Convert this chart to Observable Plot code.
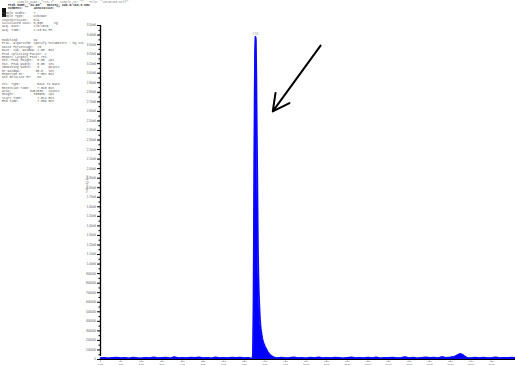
<!DOCTYPE html>
<html>
<head>
<meta charset="utf-8">
<script src="https://cdn.jsdelivr.net/npm/d3@7"></script>
<script src="https://cdn.jsdelivr.net/npm/@observablehq/plot@0.6"></script>
<style>
  html, body { margin: 0; padding: 0; background: #fff; }
  #wrap { position: relative; width: 515px; height: 365px; overflow: hidden; }
  #report { position: absolute; left: 2px; top: 0.5px; font-family: "Liberation Mono", "DejaVu Sans Mono", monospace; font-size: 3.1px; line-height: 3.4px; color: #555; white-space: pre; }
  #report .hdr { font-weight: bold; color: #333; padding-left: 6px; }
  #bar { position: absolute; left: 2px; top: 8px; width: 4px; height: 9px; background: #111; }
</style>
</head>
<body>
<div id="wrap">
  <div id="bar"></div>
  <div id="report"></div>
</div>
<script>
// ---- data ----
const scans = [1,10,20,30,40,50,60,70,80,90,100,110,120,130,140,150,160,170,180,190,200,210,220,230,240,250,260,270,280,290,300,310,320,330,340,350,360,365,368,369,370,371,372,373,374,375,376,377,378,379,380,381,382,383,384,385,386,387,388,389,390,391,392,394,396,398,400,403,406,410,415,420,425,430,440,450,460,470,480,490,500,510,520,530,540,550,560,570,580,590,600,610,620,630,640,650,660,670,680,690,700,710,720,730,740,750,760,770,780,790,800,810,820,830,840,850,860,865,870,875,880,885,890,900,910,920,930,940,950,960,970,980,990,1000,1008];
const intensity = [14000,18000,12000,16000,20000,13000,17000,11000,19000,15000,12000,18000,14000,21000,13000,16000,19000,12000,24000,15000,17000,13000,20000,16000,22000,14000,18000,12000,21000,15000,17000,13000,19000,16000,20000,14000,18000,12000,10000,12000,18000,60000,400000,1100000,1900000,2700000,3200000,3380000,3350000,3000000,2500000,2100000,1600000,1150000,900000,720000,600000,500000,420000,360000,320000,290000,260000,210000,180000,155000,135000,110000,85000,60000,38000,26000,18000,15000,20000,13000,17000,22000,14000,18000,12000,19000,15000,21000,13000,17000,14000,20000,16000,12000,18000,22000,14000,17000,13000,19000,15000,21000,12000,18000,16000,20000,13000,17000,24000,15000,19000,12000,18000,22000,16000,20000,14000,25000,18000,22000,28000,38000,52000,58000,48000,30000,18000,13000,19000,15000,20000,14000,17000,21000,13000,18000,16000,19000,15000];

const xDomain = [1, 1008];
const yDomain = [0, 3500000];
const yTicks = [0,100000,200000,300000,400000,500000,600000,700000,800000,900000,1000000,1100000,1200000,1300000,1400000,1500000,1600000,1700000,1800000,1900000,2000000,2100000,2200000,2300000,2400000,2500000,2600000,2700000,2800000,2900000,3000000,3100000,3200000,3300000,3400000,3500000];
const xTicks = [1,50,100,150,200,250,300,350,400,450,500,550,600,650,700,750,800,850,900,950];
const xTimeLabels = ["0.02","1.00","2.00","3.00","4.00","5.00","6.00","7.00","8.00","9.00","10.00","11.00","12.00","13.00","14.00","15.00","16.00","17.00","18.00","19.00"];
const peakLabel = ["7.55"];
const peakScan = [377];
const peakHeight = [3380000];
const arrowFromScan = [535], arrowFromY = [3290000];
const arrowToScan = [419], arrowToY = [2600000];
const yTitle = "Intensity, cps";

const reportHeader = [
  'Sample Name: "STD-7"   Sample ID: ""   File: "20160205.wiff"',
  'Peak Name: "3C-BZ"   Masses: 346.0/169.0 amu',
  'Comment: ""   Annotation: ""'
];
const reportLines = [
  "Sample Index:    7",
  "Sample Type:     Unknown",
  "Concentration:   N/A",
  "Calculated Conc: 0.000      ng",
  "Acq. Date:       2/5/2016",
  "Acq. Time:       1:43:04 PM",
  "",
  "",
  "Modified:        No",
  "Proc. Algorithm: Specify Parameters - MQ III",
  "Noise Percentage:  75",
  "Base. Sub. Window: 2.00  min",
  "Peak Splitting Factor: 2",
  "Report Largest Peak: Yes",
  "Min. Peak Height:  0.00  cps",
  "Min. Peak Width:   0.00  sec",
  "Smoothing Width:   3     points",
  "RT Window:        30.0   sec",
  "Expected RT:       7.557 min",
  "Use Relative RT:   No",
  "",
  "Int. Type:         Base To Base",
  "Retention Time:    7.545 min",
  "Area:          3482036.  counts",
  "Height:          3385e6. cps",
  "Start Time:        7.514 min",
  "End Time:          7.889 min"
];

// ---- report text ----
const rep = document.getElementById("report");
reportHeader.forEach((t, i) => {
  const d = document.createElement("div");
  d.textContent = t;
  if (i === 0) { d.style.paddingLeft = "15px"; d.style.color = "#888"; }
  else d.className = "hdr";
  rep.appendChild(d);
});
const sp = document.createElement("div"); sp.style.height = "1px"; rep.appendChild(sp);
reportLines.forEach(t => { const d = document.createElement("div"); d.textContent = t || " "; rep.appendChild(d); });

// ---- chart ----
const data = scans.map((s, i) => ({scan: s, v: intensity[i]}));
const minorTicks = yTicks.slice(0, -1).map(v => v + 50000);
const fmtY = v => v === 0 ? "0" : v >= 1000000 ? (v / 1e6).toFixed(2) + "e6" : String(v);

const chart = Plot.plot({
  width: 515,
  height: 365,
  marginLeft: 100,
  marginRight: 0,
  marginTop: 25,
  marginBottom: 6,
  style: {fontFamily: "Liberation Sans, Arial, sans-serif", background: "transparent", overflow: "visible"},
  x: {domain: xDomain},
  y: {domain: yDomain},
  marks: [
    Plot.areaY(data, {x: "scan", y: "v", fill: "#0000ff"}),
    Plot.lineY(data, {x: "scan", y: "v", stroke: "#0a0aff", strokeWidth: 1.8}),
    Plot.axisY({ticks: yTicks, tickSize: 3, tickPadding: 1.5, fontSize: 3, tickFormat: fmtY, label: null, stroke: "#000", fill: "#555"}),
    Plot.axisY({ticks: minorTicks, tickSize: 1.5, fill: "none", label: null, stroke: "#000"}),
    Plot.axisX({ticks: xTicks, tickSize: 1.2, tickPadding: 0, fontSize: 2.5, lineHeight: 1, tickFormat: (d, i) => d + "\n" + xTimeLabels[i], label: null, stroke: "#000", fill: "#555"}),
    Plot.ruleX([xDomain[0]], {y1: yDomain[0], y2: yDomain[1], stroke: "#000", strokeWidth: 1.3, insetTop: -3}),
    Plot.ruleY([yDomain[0]], {stroke: "#000", strokeWidth: 1}),
    Plot.text(peakLabel, {x: peakScan, y: peakHeight, text: d => d, dy: -1.5, fontSize: 3, fill: "#888", lineAnchor: "bottom"}),
    Plot.arrow([0], {x1: arrowFromScan, y1: arrowFromY, x2: arrowToScan, y2: arrowToY, stroke: "#000", strokeWidth: 2, headLength: 14, headAngle: 55}),
    Plot.text([yTitle], {frameAnchor: "left", text: d => d, rotate: -90, dx: -13, dy: 0, fontSize: 3, fill: "#777"})
  ]
});
document.getElementById("wrap").insertBefore(chart, document.getElementById("bar"));
chart.style.position = "absolute";
chart.style.left = "0";
chart.style.top = "0";
</script>
</body>
</html>
